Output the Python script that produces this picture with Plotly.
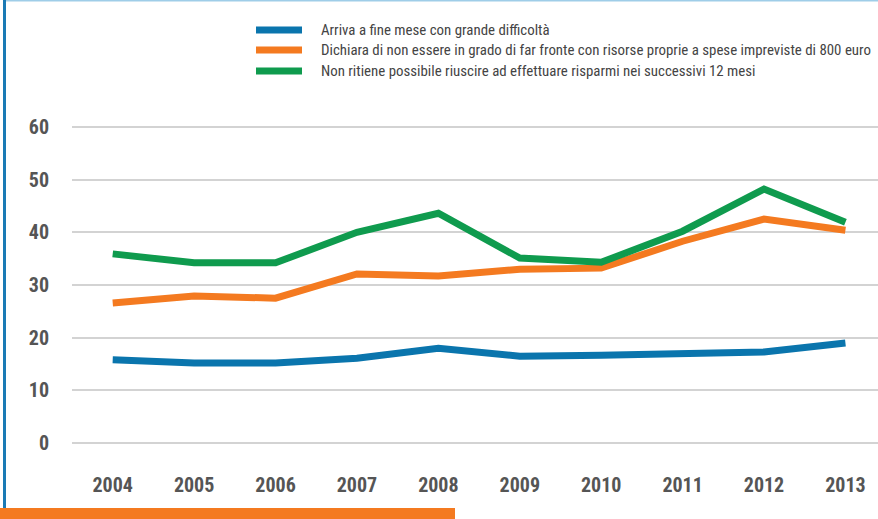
import plotly.graph_objects as go

years = [2004, 2005, 2006, 2007, 2008, 2009, 2010, 2011, 2012, 2013]
difficolta = [15.8, 15.2, 15.2, 16.1, 18.0, 16.5, 16.7, 16.9, 17.3, 19.0]
spese_800 = [26.6, 27.9, 27.5, 32.1, 31.7, 33.0, 33.2, 38.3, 42.5, 40.4]
risparmi = [35.9, 34.2, 34.2, 40.0, 43.6, 35.1, 34.3, 40.2, 48.2, 41.9]

names = [
    "Arriva a fine mese con grande difficoltà",
    "Dichiara di non essere in grado di far fronte con risorse proprie a spese impreviste di 800 euro",
    "Non ritiene possibile riuscire ad effettuare risparmi nei successivi 12 mesi",
]
colors = ["#0a75ad", "#f47a20", "#0f9b4e"]
series = [difficolta, spese_800, risparmi]

W, H = 878, 519
ML, MR, MT, MB = 72, 0, 111, 60
PW, PH = W - ML - MR, H - MT - MB

def px(x):
    return (x - ML) / PW

def py(y):
    return (H - MB - y) / PH

fig = go.Figure()
for name, vals, col in zip(names, series, colors):
    fig.add_trace(go.Scatter(x=years, y=vals, name=name, mode="lines",
                             line=dict(color=col, width=7), showlegend=False))

font_narrow = "Roboto Condensed, Open Sans Condensed, sans-serif"

shapes = []
annotations = []
# manual legend
leg_y = [30, 50, 71]
for name, col, yy in zip(names, colors, leg_y):
    shapes.append(dict(type="line", xref="paper", yref="paper",
                       x0=px(256), x1=px(302), y0=py(yy), y1=py(yy),
                       line=dict(color=col, width=7)))
    annotations.append(dict(text=name, xref="paper", yref="paper",
                            x=px(319), y=py(yy), xanchor="left", yanchor="middle",
                            showarrow=False,
                            font=dict(family=font_narrow, size=14.9, color="#444444")))

# frame decorations
shapes.append(dict(type="line", xref="paper", yref="paper",
                   x0=px(4), x1=px(878), y0=py(0.5), y1=py(0.5),
                   line=dict(color="#9fcde8", width=2)))
shapes.append(dict(type="line", xref="paper", yref="paper",
                   x0=px(4.5), x1=px(4.5), y0=py(0), y1=py(508),
                   line=dict(color="#1a7ab5", width=3)))
shapes.append(dict(type="rect", xref="paper", yref="paper",
                   x0=px(0), x1=px(455), y0=py(508), y1=py(519),
                   line=dict(width=0), fillcolor="#f47a20"))

fig.update_layout(
    width=W, height=H,
    margin=dict(l=ML, r=MR, t=MT, b=MB),
    paper_bgcolor="white", plot_bgcolor="white",
    shapes=shapes, annotations=annotations,
    xaxis=dict(range=[2003.5, 2013.4], tickmode="array", tickvals=years,
               ticktext=[str(y) for y in years], showgrid=False, zeroline=False,
               showline=False, ticks="", ticklabelstandoff=12,
               tickfont=dict(family=font_narrow, size=20, color="#555555", weight="bold")),
    yaxis=dict(range=[-3, 63], tickmode="array", tickvals=[0, 10, 20, 30, 40, 50, 60],
               showgrid=True, gridcolor="#d3d3d3", gridwidth=1.5, zeroline=False,
               showline=False, ticks="", ticklabelstandoff=22,
               tickfont=dict(family=font_narrow, size=20, color="#555555", weight="bold")),
)

fig.write_html("out.html")
